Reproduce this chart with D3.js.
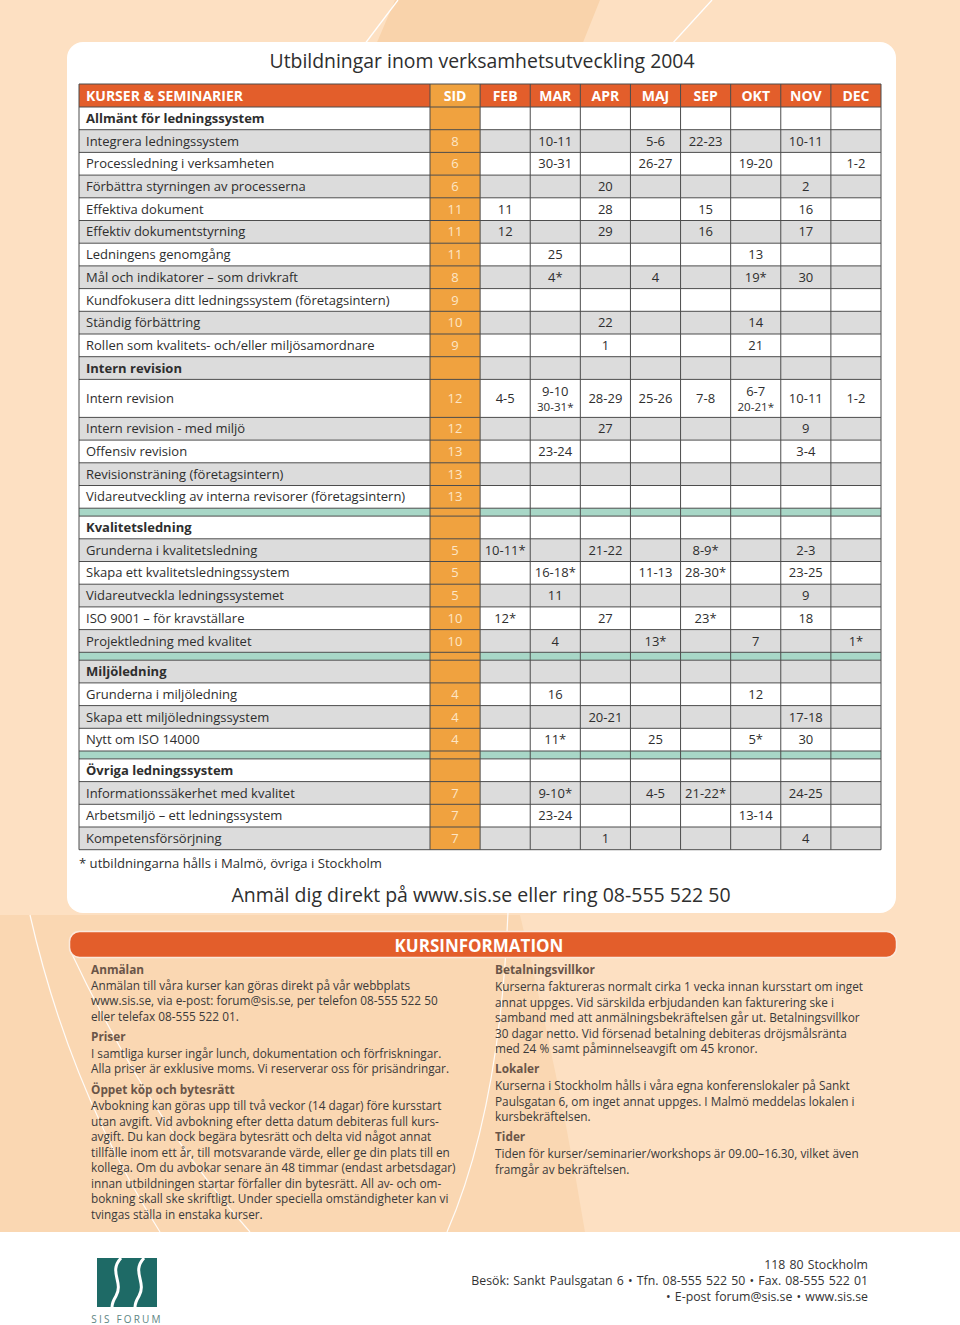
<!DOCTYPE html>
<html><head><meta charset="utf-8">
<script src="https://cdn.jsdelivr.net/npm/d3@7"></script>
<style>
body{margin:0;background:#fff}
svg{display:block}
text{font-family:'Open Sans','Noto Sans',sans-serif}
</style>
</head><body><div id="chart"></div>
<script>
// ---------------- DATA ----------------
const months = ["FEB","MAR","APR","MAJ","SEP","OKT","NOV","DEC"];
const headerLabels = ["KURSER & SEMINARIER","SID"];
const rowKinds = ["section","course","course","course","course","course","course","course","course","course","course",
  "section","tall","course","course","course","course","sep",
  "section","course","course","course","course","course","sep",
  "section","course","course","course","sep",
  "section","course","course","course"];
const rowNames = ["Allmänt för ledningssystem","Integrera ledningssystem","Processledning i verksamheten",
  "Förbättra styrningen av processerna","Effektiva dokument","Effektiv dokumentstyrning","Ledningens genomgång",
  "Mål och indikatorer – som drivkraft","Kundfokusera ditt ledningssystem (företagsintern)","Ständig förbättring",
  "Rollen som kvalitets- och/eller miljösamordnare",
  "Intern revision","Intern revision","Intern revision - med miljö","Offensiv revision",
  "Revisionsträning (företagsintern)","Vidareutveckling av interna revisorer (företagsintern)","",
  "Kvalitetsledning","Grunderna i kvalitetsledning","Skapa ett kvalitetsledningssystem","Vidareutveckla ledningssystemet",
  "ISO 9001 – för kravställare","Projektledning med kvalitet","",
  "Miljöledning","Grunderna i miljöledning","Skapa ett miljöledningssystem","Nytt om ISO 14000","",
  "Övriga ledningssystem","Informationssäkerhet med kvalitet","Arbetsmiljö – ett ledningssystem","Kompetensförsörjning"];
const rowSid = ["","8","6","6","11","11","11","8","9","10","9",
  "","12","12","13","13","13","",
  "","5","5","5","10","10","",
  "","4","4","4","",
  "","7","7","7"];
const rowDates = [
  [],
  ["","10-11","","5-6","22-23","","10-11",""],
  ["","30-31","","26-27","","19-20","","1-2"],
  ["","","20","","","","2",""],
  ["11","","28","","15","","16",""],
  ["12","","29","","16","","17",""],
  ["","25","","","","13","",""],
  ["","4*","","4","","19*","30",""],
  ["","","","","","","",""],
  ["","","22","","","14","",""],
  ["","","1","","","21","",""],
  [],
  ["4-5","9-10|30-31*","28-29","25-26","7-8","6-7|20-21*","10-11","1-2"],
  ["","","27","","","","9",""],
  ["","23-24","","","","","3-4",""],
  ["","","","","","","",""],
  ["","","","","","","",""],
  [],
  [],
  ["10-11*","","21-22","","8-9*","","2-3",""],
  ["","16-18*","","11-13","28-30*","","23-25",""],
  ["","11","","","","","9",""],
  ["12*","","27","","23*","","18",""],
  ["","4","","13*","","7","","1*"],
  [],
  [],
  ["","16","","","","12","",""],
  ["","","20-21","","","","17-18",""],
  ["","11*","","25","","5*","30",""],
  [],
  [],
  ["","9-10*","","4-5","21-22*","","24-25",""],
  ["","23-24","","","","13-14","",""],
  ["","","1","","","","4",""]
];
const titleText = "Utbildningar inom verksamhetsutveckling 2004";
const footnoteText = "* utbildningarna hålls i Malmö, övriga i Stockholm";
const callText = "Anmäl dig direkt på www.sis.se eller ring 08-555 522 50";
const infoTitle = "KURSINFORMATION";
const infoLeft = [
  ["h","Anmälan"],
  ["t","Anmälan till våra kurser kan göras direkt på vår webbplats"],
  ["t","www.sis.se, via e-post: forum@sis.se, per telefon 08-555 522 50"],
  ["t","eller telefax 08-555 522 01."],
  ["h","Priser"],
  ["t","I samtliga kurser ingår lunch, dokumentation och förfriskningar."],
  ["t","Alla priser är exklusive moms. Vi reserverar oss för prisändringar."],
  ["h","Öppet köp och bytesrätt"],
  ["t","Avbokning kan göras upp till två veckor (14 dagar) före kursstart"],
  ["t","utan avgift. Vid avbokning efter detta datum debiteras full kurs-"],
  ["t","avgift. Du kan dock begära bytesrätt och delta vid något annat"],
  ["t","tillfälle inom ett år, till motsvarande värde, eller ge din plats till en"],
  ["t","kollega. Om du avbokar senare än 48 timmar (endast arbetsdagar)"],
  ["t","innan utbildningen startar förfaller din bytesrätt. All av- och om-"],
  ["t","bokning skall ske skriftligt. Under speciella omständigheter kan vi"],
  ["t","tvingas ställa in enstaka kurser."]
];
const infoRight = [
  ["h","Betalningsvillkor"],
  ["t","Kurserna faktureras normalt cirka 1 vecka innan kursstart om inget"],
  ["t","annat uppges. Vid särskilda erbjudanden kan fakturering ske i"],
  ["t","samband med att anmälningsbekräftelsen går ut. Betalningsvillkor"],
  ["t","30 dagar netto. Vid försenad betalning debiteras dröjsmålsränta"],
  ["t","med 24 % samt påminnelseavgift om 45 kronor."],
  ["h","Lokaler"],
  ["t","Kurserna i Stockholm hålls i våra egna konferenslokaler på Sankt"],
  ["t","Paulsgatan 6, om inget annat uppges. I Malmö meddelas lokalen i"],
  ["t","kursbekräftelsen."],
  ["h","Tider"],
  ["t","Tiden för kurser/seminarier/workshops är 09.00–16.30, vilket även"],
  ["t","framgår av bekräftelsen."]
];
const footerLines = ["118 80 Stockholm",
  "Besök: Sankt Paulsgatan 6 • Tfn. 08-555 522 50 • Fax. 08-555 522 01",
  "• E-post forum@sis.se  • www.sis.se"];
const logoLabel = "SIS FORUM";

// ---------------- STYLE / LAYOUT ----------------
const W = 960, H = 1325;
const C = {
  peach:"#fde0c2", peachDark:"#f9d3ab", orange:"#e35e2b", sid:"#f0a23f", sidText:"#fde6c6",
  gray:"#dcdcdc", teal:"#a8d7c7", grid:"#4d4d4d", text:"#2e2e2e", head:"#6a5548", logo:"#1e6a66"
};
const tableLeft = 79, tableRight = 881, nameRight = 430, headTop = 84, headH = 23;
const kindH = {section:22.7, course:22.7, tall:38, sep:7.9};
const groupStartShaded = [false,false,true,false];
const FS = {title:19.4, head:14, cell:13, note:13.1, call:19.5, bar:17, info:11.8, foot:12.3};

const svg = d3.select("#chart").append("svg").attr("width",W).attr("height",H);

// background
svg.append("rect").attr("width",W).attr("height",1232).attr("fill",C.peach);
svg.append("rect").attr("y",1232).attr("width",W).attr("height",H-1232).attr("fill","#fff");
const deco = svg.append("g");
deco.append("path").attr("d","M395,0 L600,0 L520,200 L310,200 Z").attr("fill",C.peachDark);
deco.append("path").attr("d","M0,915 L520,915 Q560,1080 585,1232 L0,1232 Z").attr("fill","#fad7b2");
deco.append("path").attr("d","M398,0 L330,90").attr("stroke","#fff").attr("stroke-width",1.3).attr("fill","none");
deco.append("path").attr("d","M712,0 L630,90").attr("stroke","#fff").attr("stroke-width",1.3).attr("fill","none");
deco.append("path").attr("d","M30,915 Q70,1090 160,1232").attr("stroke","#fff").attr("stroke-width",1.2).attr("fill","none").attr("opacity",0.9);
deco.append("path").attr("d","M70,950 Q150,1120 250,1232").attr("stroke","#fff").attr("stroke-width",1.2).attr("fill","none").attr("opacity",0.9);
deco.append("path").attr("d","M508,912 Q500,1110 447,1232").attr("stroke","#fff").attr("stroke-width",1.2).attr("fill","none").attr("opacity",0.9);

// card
svg.append("rect").attr("x",67).attr("y",42).attr("width",829).attr("height",871).attr("rx",16).attr("fill","#fff");

svg.append("text").attr("x",482).attr("y",68).attr("text-anchor","middle")
  .attr("font-size",FS.title).attr("fill",C.text).text(titleText);

// scales
const colScale = d3.scaleBand().domain(["SID",...months]).range([nameRight,tableRight]);
const heights = rowKinds.map(k=>kindH[k]);
const tops = [0,...d3.cumsum(heights)].map(v=>v+headTop+headH);
const yTop = d3.scaleOrdinal().domain(d3.range(rowKinds.length)).range(tops);
const tableBottom = tops[tops.length-1];

// shading
let group = 0, parity = 0;
const shaded = rowKinds.map(k=>{
  if(k==="sep"){ group++; parity=0; return false; }
  const s = (parity%2===1) !== groupStartShaded[group];
  parity++;
  return s;
});

const rowsG = svg.append("g");
rowKinds.forEach((k,i)=>{
  const y = yTop(i), h = heights[i];
  let fill = k==="sep" ? C.teal : (shaded[i] ? C.gray : "#fff");
  rowsG.append("rect").attr("x",tableLeft).attr("y",y).attr("width",tableRight-tableLeft).attr("height",h).attr("fill",fill);
});
// header
svg.append("rect").attr("x",tableLeft).attr("y",headTop).attr("width",tableRight-tableLeft).attr("height",headH).attr("fill",C.orange);
// SID column
svg.append("rect").attr("x",colScale("SID")).attr("y",headTop).attr("width",colScale.bandwidth()).attr("height",tableBottom-headTop).attr("fill",C.sid);

// grid lines
const grid = svg.append("g").attr("stroke",C.grid).attr("stroke-width",1);
[headTop, ...tops].forEach(y=>grid.append("line").attr("x1",tableLeft).attr("x2",tableRight).attr("y1",y).attr("y2",y));
[tableLeft, nameRight, ...months.map(m=>colScale(m)), tableRight].forEach(x=>
  grid.append("line").attr("x1",x).attr("x2",x).attr("y1",headTop).attr("y2",tableBottom));

// header text
const ht = svg.append("g").attr("font-weight","bold").attr("font-size",FS.head).attr("fill","#fff");
ht.append("text").attr("x",86).attr("y",headTop+headH/2+5).text(headerLabels[0]);
["SID",...months].forEach((m,j)=>{
  ht.append("text").attr("x",colScale(m)+colScale.bandwidth()/2).attr("y",headTop+headH/2+5)
    .attr("text-anchor","middle").text(j===0?headerLabels[1]:m);
});

// row text
const tg = svg.append("g").attr("font-size",FS.cell).attr("fill",C.text);
rowKinds.forEach((k,i)=>{
  if(k==="sep") return;
  const cy = yTop(i)+heights[i]/2;
  tg.append("text").attr("x",86).attr("y",cy+4.6).attr("font-weight",k==="section"?"bold":"normal").text(rowNames[i]);
  if(rowSid[i]) tg.append("text").attr("x",colScale("SID")+colScale.bandwidth()/2).attr("y",cy+4.6)
    .attr("text-anchor","middle").attr("fill",C.sidText).text(rowSid[i]);
  (rowDates[i]||[]).forEach((d,j)=>{
    if(!d) return;
    const cx = colScale(months[j])+colScale.bandwidth()/2;
    const parts = d.split("|");
    parts.forEach((p,pi)=>{
      const off = (pi-(parts.length-1)/2)*15;
      tg.append("text").attr("x",cx).attr("y",cy+off+4.6).attr("text-anchor","middle")
        .attr("font-size",parts.length>1 && p.includes("*")?11.6:FS.cell).text(p);
    });
  });
});

svg.append("text").attr("x",79).attr("y",868).attr("font-size",FS.note).attr("fill",C.text).text(footnoteText);
svg.append("text").attr("x",481).attr("y",902).attr("text-anchor","middle").attr("font-size",FS.call).attr("fill",C.text).text(callText);

// KURSINFORMATION bar
svg.append("rect").attr("x",69.5).attr("y",931.5).attr("width",827).attr("height",26).attr("rx",10)
  .attr("fill",C.orange).attr("stroke","#fbe9dc").attr("stroke-width",1.5);
svg.append("text").attr("x",479).attr("y",952).attr("text-anchor","middle").attr("font-size",FS.bar)
  .attr("font-weight","bold").attr("fill","#fff").text(infoTitle);

function infoBlock(lines, x, ys){
  const g = svg.append("g");
  lines.forEach((l,i)=>{
    g.append("text").attr("x",x).attr("y",ys[i]+4.3).attr("font-size",FS.info)
      .attr("font-weight",l[0]==="h"?"bold":"normal").attr("fill",l[0]==="h"?C.head:"#3a3a3a").text(l[1]);
  });
}
infoBlock(infoLeft, 91, [970,986,1001,1017,1037,1054,1069,1090,1106,1122,1137,1153,1168,1184,1199,1215]);
infoBlock(infoRight, 495, [970,987,1003,1018,1034,1049,1069,1086,1102,1117,1137,1154,1170]);

// footer
const lg = svg.append("g");
lg.append("rect").attr("x",97).attr("y",1258).attr("width",60).attr("height",49).attr("fill",C.logo);
lg.append("path").attr("d","M121,1258 C108,1272 124,1282 116,1296 C113,1301 112,1304 112,1307").attr("stroke","#fff").attr("stroke-width",3).attr("fill","none");
lg.append("path").attr("d","M144,1258 C131,1272 147,1282 139,1296 C136,1301 135,1304 135,1307").attr("stroke","#fff").attr("stroke-width",3).attr("fill","none");
svg.append("text").attr("x",127).attr("y",1323).attr("text-anchor","middle").attr("font-size",10)
  .attr("letter-spacing",2.2).attr("fill","#5e8583").text(logoLabel);
footerLines.forEach((t,i)=>{
  svg.append("text").attr("x",868).attr("y",[1269,1285,1301][i]).attr("text-anchor","end")
    .attr("font-size",FS.foot).attr("word-spacing",1).attr("fill","#333").text(t);
});
</script>
</body></html>
